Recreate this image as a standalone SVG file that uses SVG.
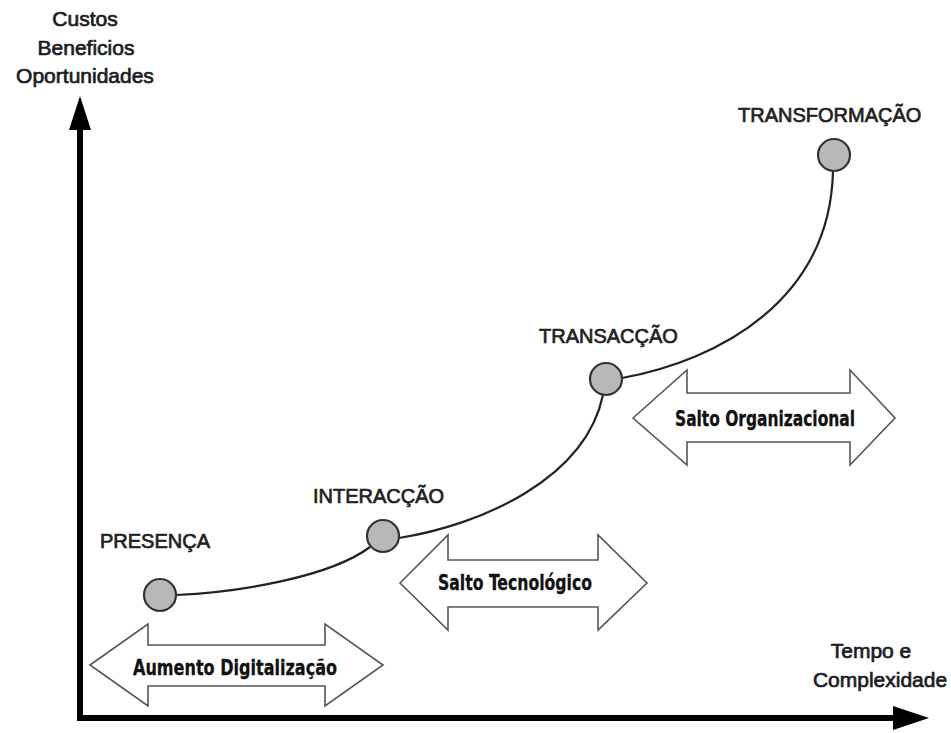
<svg xmlns="http://www.w3.org/2000/svg" width="951" height="733" viewBox="0 0 951 733">
<style>
.lbl{font-family:"Liberation Sans",Arial,sans-serif;font-size:20px;fill:#222;stroke:#222;stroke-width:0.7}
.ax{font-family:"Liberation Sans",Arial,sans-serif;font-size:21px;fill:#1c1c24;stroke:#1c1c24;stroke-width:0.7}
.arr{font-family:"Liberation Sans Narrow","DejaVu Sans Condensed",sans-serif;font-weight:bold;font-size:22px;fill:#111;stroke:#111;stroke-width:0.3}
.node{fill:#b8b8b8;stroke:#333;stroke-width:2.2}
.dbl{fill:#fff;stroke:#555;stroke-width:1.6;stroke-linejoin:miter}
.conn{fill:none;stroke:#222;stroke-width:2.2}
</style>
<rect width="951" height="733" fill="#fff"/>
<g id="axes">
<rect x="77" y="124" width="6" height="597" fill="#000"/>
<polygon points="80,96 69,130 91,130" fill="#000"/>
<rect x="77" y="715" width="820" height="6" fill="#000"/>
<polygon points="929,718 893,706 893,730" fill="#000"/>
<text class="ax" x="85" y="26" text-anchor="middle">Custos</text>
<text class="ax" x="86" y="55" text-anchor="middle">Beneficios</text>
<text class="ax" x="85" y="83" text-anchor="middle">Oportunidades</text>
<text class="ax" x="871" y="658" text-anchor="middle">Tempo e</text>
<text class="ax" x="880" y="687" text-anchor="middle">Complexidade</text>
</g>
<g id="connectors">
<path class="conn" d="M176,595 C240,592 330,577 370,547"/>
<path class="conn" d="M399,538 C480,525 585,480 603,395"/>
<path class="conn" d="M622,378 C720,360 830,300 833,171"/>
</g>
<g id="presenca">
<circle class="node" cx="160" cy="595" r="16"/>
<text class="lbl" x="100" y="548">PRESENÇA</text>
</g>
<g id="interaccao">
<circle class="node" cx="383" cy="536" r="16"/>
<text class="lbl" x="313" y="503">INTERACÇÃO</text>
</g>
<g id="transaccao">
<circle class="node" cx="606" cy="379" r="16"/>
<text class="lbl" x="539" y="343">TRANSACÇÃO</text>
</g>
<g id="transformacao">
<circle class="node" cx="834" cy="155" r="16"/>
<text class="lbl" x="738" y="122">TRANSFORMAÇÃO</text>
</g>
<g id="aumento">
<path class="dbl" d="M90,665 L148,624 L148,645 L325,645 L325,624 L383,665 L325,706 L325,686 L148,686 L148,706 Z"/>
<text class="arr" x="133" y="675" textLength="204" lengthAdjust="spacingAndGlyphs">Aumento Digitalização</text>
</g>
<g id="salto-tecnologico">
<path class="dbl" d="M400,583 L448,535 L448,560 L598,560 L598,535 L647,583 L598,630 L598,607 L448,607 L448,630 Z"/>
<text class="arr" x="438" y="590" textLength="154" lengthAdjust="spacingAndGlyphs">Salto Tecnológico</text>
</g>
<g id="salto-organizacional">
<path class="dbl" d="M633,418 L687,370 L687,393 L850,393 L850,370 L895,418 L850,465 L850,442 L687,442 L687,465 Z"/>
<text class="arr" x="675" y="426" textLength="180" lengthAdjust="spacingAndGlyphs">Salto Organizacional</text>
</g>
</svg>
